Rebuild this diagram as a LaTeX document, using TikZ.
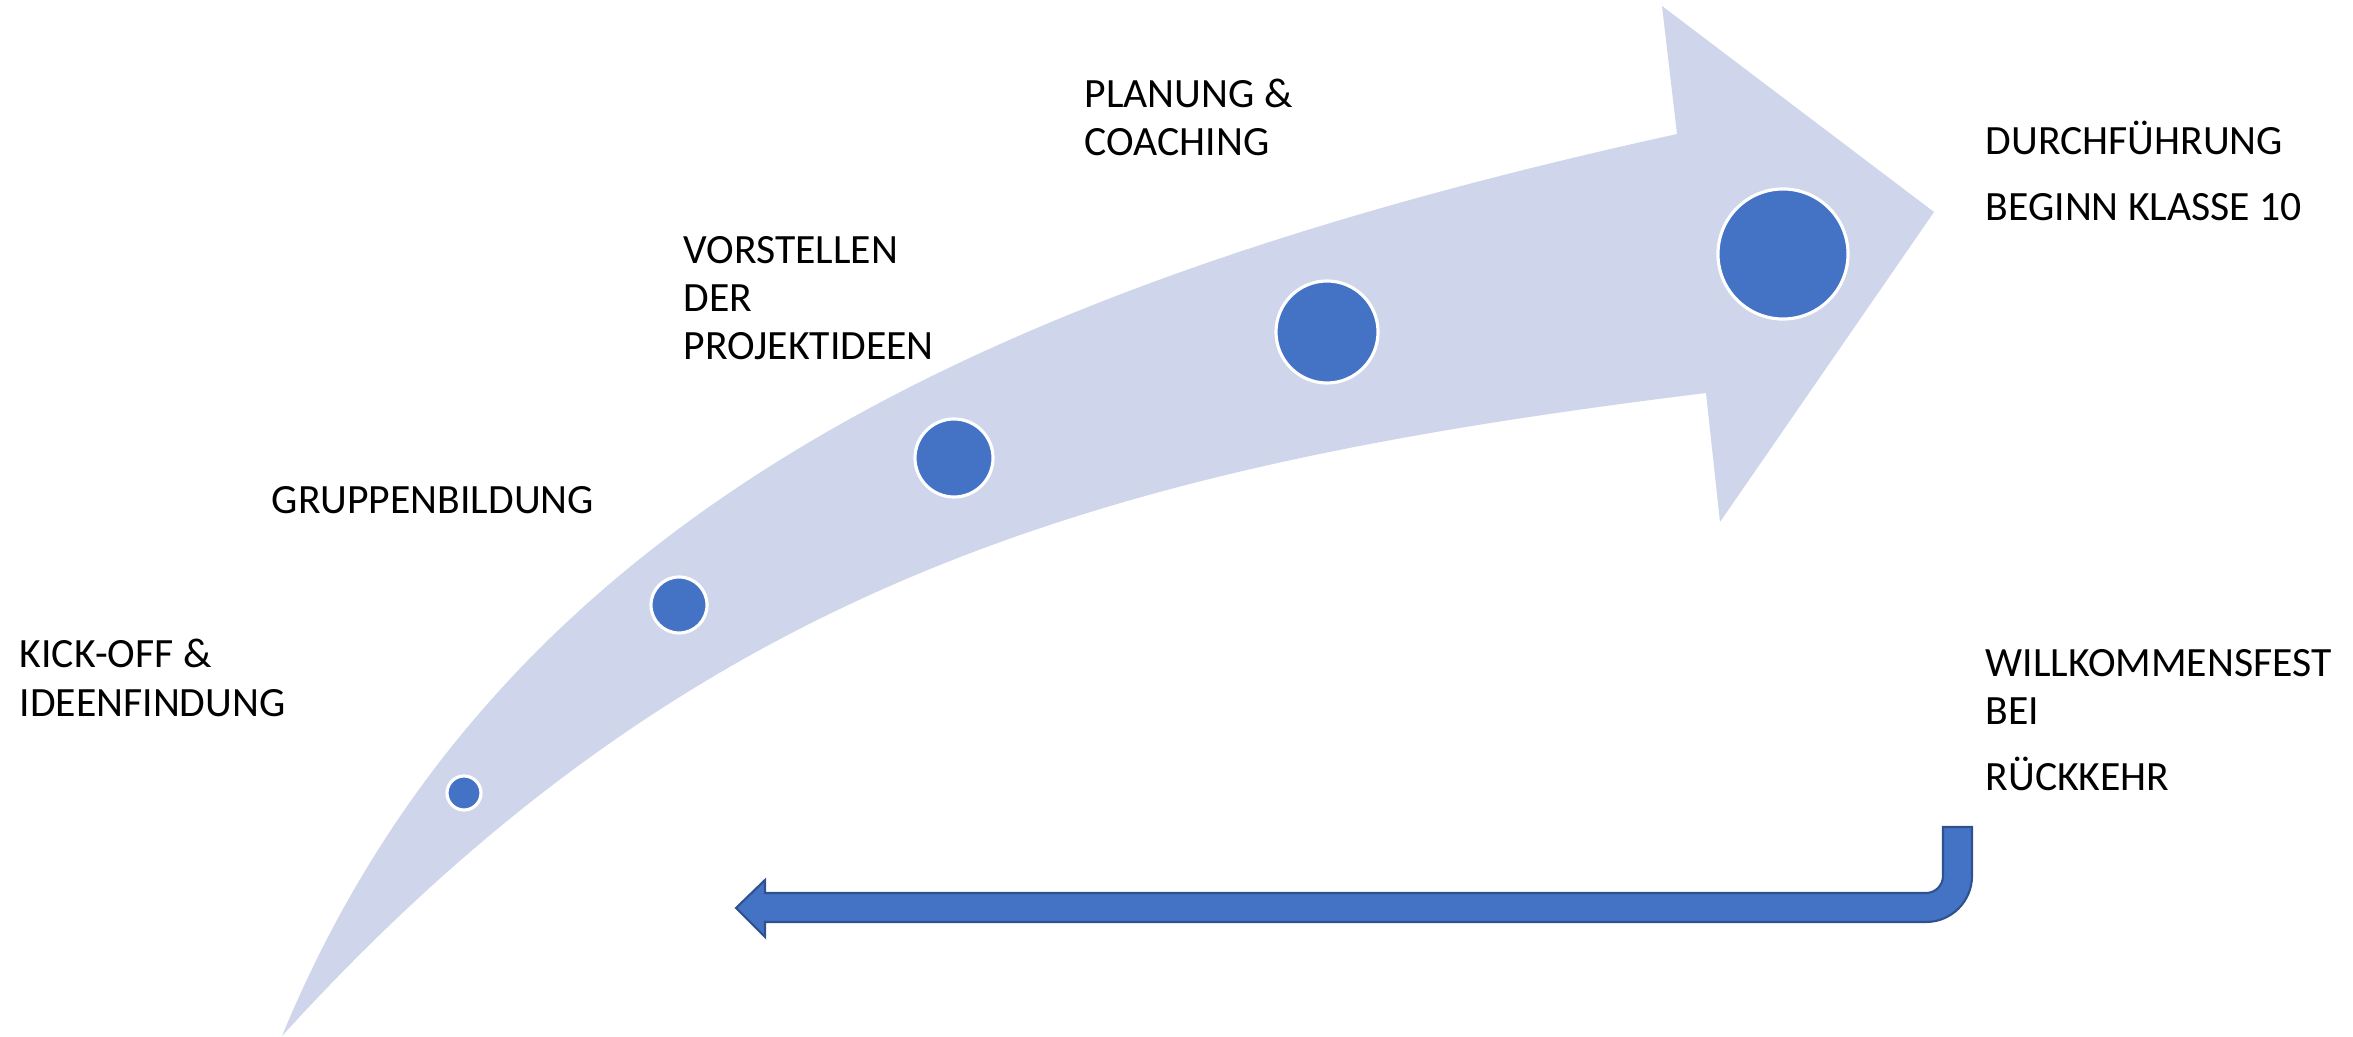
\documentclass[tikz,border=0pt]{standalone}
\usepackage{fontspec}
\setmainfont{Carlito}
\definecolor{arrowlight}{HTML}{CFD5EA}
\definecolor{dotblue}{HTML}{4472C4}
\definecolor{darkblue}{HTML}{2F528F}
\begin{document}
\begin{tikzpicture}[x=0.01cm,y=-0.01cm,
  lbl/.style={inner sep=0pt,anchor=base west,font=\fontsize{11.85pt}{14pt}\selectfont},
  dot/.style={circle,fill=dotblue,draw=white,line width=0.9pt,inner sep=0pt}]
\useasboundingbox (0,0) rectangle (2353,1037);
% big curved arrow
\coordinate (tail) at (282,1036);
\coordinate (uneck) at (1677,134);
\coordinate (ubarb) at (1662,6);
\coordinate (tip) at (1934,212);
\coordinate (lbarb) at (1720,522);
\coordinate (lneck) at (1706,393);
\fill[arrowlight] (tail) .. controls (495,521) and (977,288) .. (uneck)
  -- (ubarb) -- (tip) -- (lbarb) -- (lneck)
  .. controls (1106,467) and (697,580) .. (tail) -- cycle;
% dots
\node[dot,minimum size=0.34cm] (c1) at (464,793) {};
\node[dot,minimum size=0.56cm] (c2) at (679,605) {};
\node[dot,minimum size=0.78cm] (c3) at (954,458) {};
\node[dot,minimum size=1.02cm] (c4) at (1327,332) {};
\node[dot,minimum size=1.30cm] (c5) at (1783,254) {};
% return arrow
\coordinate (stl) at (1943,827);
\coordinate (str) at (1972,827);
\coordinate (htip) at (736,908);
\draw[fill=dotblue,draw=darkblue,line width=0.6pt,line join=miter]
  (stl) -- (1943,876) .. controls (1943,885.4) and (1935.4,893) .. (1926,893)
  -- (765,893) -- (765,880) -- (htip) -- (765,937) -- (765,922)
  -- (1926,922) .. controls (1951.4,922) and (1972,901.4) .. (1972,876)
  -- (str) -- cycle;
% labels
\node[lbl] (k1) at (19,668) {KICK-OFF \&};
\node[lbl] (k2) at (19,717) {IDEENFINDUNG};
\node[lbl] (g1) at (271,514) {GRUPPENBILDUNG};
\node[lbl] (v1) at (683,264) {VORSTELLEN};
\node[lbl] (v2) at (683,312) {DER};
\node[lbl] (v3) at (683,360) {PROJEKTIDEEN};
\node[lbl] (p1) at (1084,108) {PLANUNG \&};
\node[lbl] (p2) at (1084,156) {COACHING};
\node[lbl] (d1) at (1985,155) {DURCHFÜHRUNG};
\node[lbl] (d2) at (1985,221) {BEGINN KLASSE 10};
\node[lbl] (w1) at (1985,677) {WILLKOMMENSFEST};
\node[lbl] (w2) at (1985,725) {BEI};
\node[lbl] (w3) at (1985,791) {RÜCKKEHR};
\end{tikzpicture}
\end{document}
